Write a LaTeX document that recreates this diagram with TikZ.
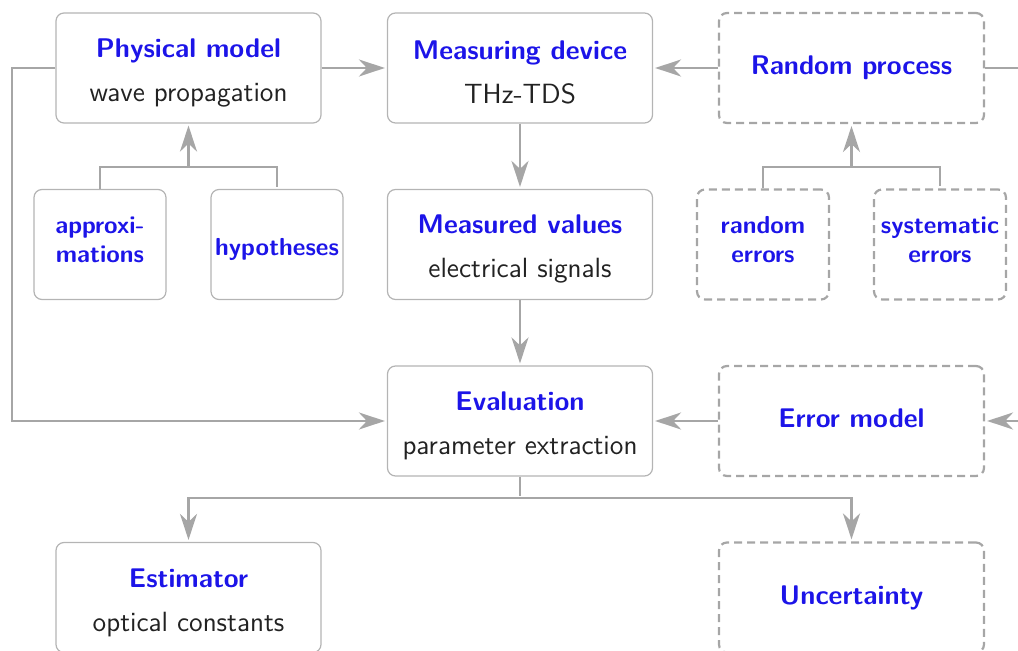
\documentclass[tikz,border=0pt]{standalone}
\usepackage{fontspec}
\usetikzlibrary{arrows.meta,positioning}
\definecolor{titleblue}{RGB}{28,20,232}
\definecolor{textgray}{RGB}{34,34,34}
\definecolor{linegray}{RGB}{166,166,166}
\definecolor{boxgray}{RGB}{180,180,180}
\newcommand{\blocktitle}[1]{\textcolor{titleblue}{\bfseries #1}}
\newcommand{\titlesub}[2]{\rule{0pt}{14.2pt}{\fontsize{13.5}{22}\selectfont\blocktitle{#1}}\\#2}

\begin{document}
\begin{tikzpicture}[
    x = 165.75pt,
    y = 88.25pt,
    >={Stealth[length=13pt,width=8.5pt,inset=4pt]},
    font=\sffamily\fontsize{13.9}{22}\selectfont,
    block/.style = {draw=boxgray, line width=0.6pt, rounded corners=4pt,
              minimum width=132.5pt, minimum height=55pt, align=center,
              text=textgray, inner sep=0pt},
    smallblock/.style = {block, minimum width=66pt,
              font=\sffamily\fontsize{12.3}{14.5}\selectfont},
    randomblock/.style = {draw=linegray, line width=1.1pt,
              dash pattern=on 4pt off 2.5pt},
    errorblock/.style = {block, randomblock,
              font=\sffamily\fontsize{13.5}{22}\selectfont},
    link/.style = {draw=linegray, line width=1.1pt, shorten >=1pt},
    ]

\useasboundingbox (-94.25pt,-291.5pt) rectangle (414.75pt,34pt);
\clip (-94.25pt,-291.5pt) rectangle (414.75pt,34pt);

\node[block] (physical) at (0,0) {\titlesub{Physical model}{wave propagation}};
\node[block] (device) at (1,0) {\titlesub{Measuring device}{THz-TDS}};
\node[errorblock] (random) at (2,0) {\blocktitle{Random process}};

\node[smallblock] (approx) at (-0.267,-1) {\blocktitle{approxi-}\\\blocktitle{mations}\rule[-4.6pt]{0pt}{4.6pt}};
\node[smallblock] (hypo) at (0.267,-1) {\rule{0pt}{14pt}\blocktitle{hypotheses}};
\node[block] (measured) at (1,-1) {\titlesub{Measured values}{electrical signals}};
\node[smallblock, randomblock] (randerr) at (1.733,-1) {\blocktitle{random}\\\blocktitle{errors}\rule[-4.6pt]{0pt}{4.6pt}};
\node[smallblock, randomblock] (syserr) at (2.267,-1) {\blocktitle{systematic}\\\blocktitle{errors}\rule[-4.6pt]{0pt}{4.6pt}};

\node[block] (evaluation) at (1,-2) {\titlesub{Evaluation}{parameter extraction}};
\node[errorblock] (errormodel) at (2,-2) {\blocktitle{Error model}\rule[-3pt]{0pt}{3pt}};

\node[block] (estimator) at (0,-3) {\titlesub{Estimator}{optical constants}};
\node[errorblock] (uncertainty) at (2,-3) {\blocktitle{Uncertainty}};

\coordinate (physjoin) at (0,-0.561);
\coordinate (randjoin) at (2,-0.561);
\coordinate (evaljoin) at (1,-2.436);
\coordinate (leftrail) at (-0.532,0);
\coordinate (rightrail) at (2.532,0);

\draw[link,->] (physical) -- (device);
\draw[link,->] (random) -- (device);
\draw[link,->] (device) -- (measured);
\draw[link,->] (measured) -- (evaluation);
\draw[link,->] (errormodel) -- (evaluation);

\draw[link] (approx.north) |- (physjoin) -| (hypo.north);
\draw[link,->] (physjoin) -- (physical);
\draw[link] (randerr.north) |- (randjoin) -| (syserr.north);
\draw[link,->] (randjoin) -- (random);

\draw[link,->] (physical.west) -- (leftrail) |- (evaluation.west);
\draw[link,->] (random.east) -- (rightrail) |- (errormodel.east);

\draw[link] (evaluation.south) -- (evaljoin);
\draw[link,->] (evaljoin) -| (estimator);
\draw[link,->] (evaljoin) -| (uncertainty);

\end{tikzpicture}
\end{document}
